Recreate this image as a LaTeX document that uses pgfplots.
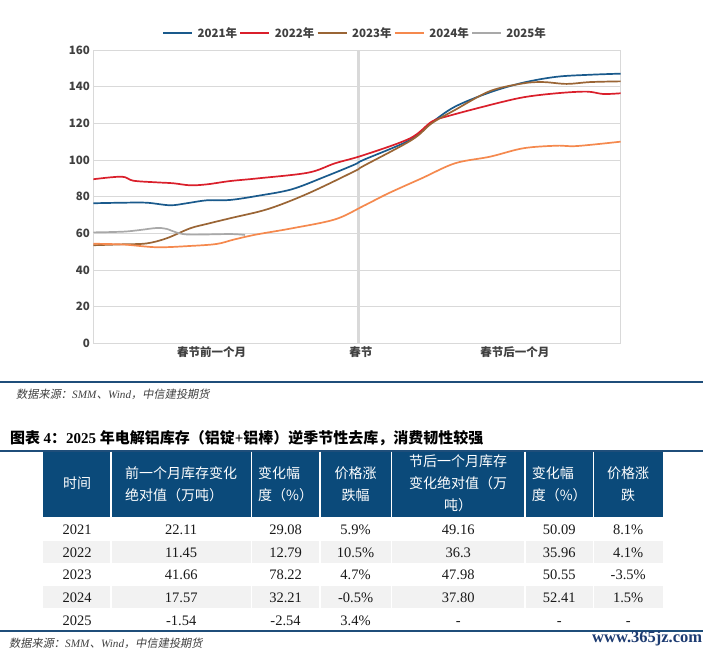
\documentclass[border=0pt]{standalone}
\usepackage{fontspec}
\setmainfont{Liberation Serif}
\newfontfamily\cjk{Noto Sans CJK SC}
\newfontfamily\cjksl[FakeSlant=0.18]{Noto Sans CJK SC}
\usepackage{pgfplots}
\pgfplotsset{compat=1.18}
\definecolor{c21}{HTML}{1A5A8C}
\definecolor{c22}{HTML}{DA1F2B}
\definecolor{c23}{HTML}{9A6535}
\definecolor{c24}{HTML}{F5894E}
\definecolor{c25}{HTML}{A9A9A9}
\definecolor{gridc}{HTML}{D9D9D9}
\definecolor{navy}{HTML}{0B4A7A}
\definecolor{rulec}{HTML}{1F4E7A}
\definecolor{rowgray}{HTML}{F2F2F2}
\definecolor{labc}{HTML}{404040}
\definecolor{wmark}{HTML}{1E3C72}
\begin{document}
\begin{tikzpicture}
\useasboundingbox[fill=white] (0,0) rectangle (709bp,-654bp);
\begin{axis}[at={(93.3bp,-343.3bp)}, anchor=south west, scale only axis,
  width=527.4bp, height=293.3bp,
  xmin=0, xmax=60, ymin=0, ymax=160,
  ytick={0,20,...,160},
  xtick={13.47,30.43,47.97},
  xticklabels={春节前一个月,春节,春节后一个月},
  major tick length=0pt,
  axis line style={gridc, line width=0.9bp},
  ymajorgrids, grid style={gridc, line width=0.9bp},
  tick label style={font=\cjk\bfseries\fontsize{11.5bp}{13bp}\selectfont, text=labc},
  /pgf/number format/assume math mode=true,
  legend columns=5,
  legend style={at={(0.4947,1.057)}, anchor=center, draw=none, fill=none,
    font=\cjk\bfseries\fontsize{11.5bp}{13bp}\selectfont, text=labc,
    inner sep=0pt, nodes={inner sep=0pt},
    /tikz/every odd column/.append style={column sep=4.5bp},
    /tikz/every even column/.append style={column sep=2.5bp}},
  legend image code/.code={\draw[#1, line width=1.7bp] (0bp,0bp) -- (29bp,0bp);},
  every axis plot/.append style={line width=1.7bp, smooth, tension=0.55},
]
\draw[gridc, line width=2.6bp] (axis cs:30.15,0) -- (axis cs:30.15,160);
\addplot[c21] coordinates {(0,76.4)(3.41,76.7)(6.08,76.7)(8.73,75.3)(10.63,76.4)(12.9,78)(15.55,78.2)(18.77,80.5)(22.57,84)(26.36,90.9)(29.77,97.6)(30.72,100)(36.03,110.9)(38.5,120.4)(41.15,129.1)(45.13,136.9)(48.92,142.2)(52.72,145.4)(56.51,146.5)(60,147.1)};
\addlegendentry{2021年}
\addplot[c22] coordinates {(0,89.5)(3.23,90.9)(4.55,88.7)(7.21,87.8)(9.1,87.3)(11,86.2)(12.9,86.7)(15.55,88.5)(18.77,90)(24.46,93.1)(27.5,98.2)(30.72,102.6)(36.03,111.8)(38.5,120.9)(40.39,124)(45.13,130)(48.92,134.2)(52.72,136.4)(56.13,137.3)(58.02,136)(60,136.4)};
\addlegendentry{2022年}
\addplot[c23] coordinates {(0,53.5)(3.41,54)(6.08,54.5)(8.35,57.3)(11,62.7)(12.9,65.1)(15.55,68.2)(19.91,73.3)(24.46,81.8)(29.77,94)(30.72,96.7)(36.22,110.9)(38.5,120)(41.15,127.3)(45.13,137.6)(48.92,141.8)(51.19,142.5)(53.86,141.5)(56.51,142.5)(60,142.9)};
\addlegendentry{2023年}
\addplot[c24] coordinates {(0,54.3)(3.41,53.9)(7.21,52.4)(11,53.1)(14.04,54.2)(16,56.6)(18.5,59.3)(22.57,62.7)(27.5,67.6)(30.72,74.9)(33.56,81.8)(37.36,90)(41.15,98.2)(45.13,101.8)(48.92,106.4)(52.72,107.8)(54.99,107.6)(60,110)};
\addlegendentry{2024年}
\addplot[c25] coordinates {(0,60.5)(3.41,60.9)(5.31,61.8)(7.21,62.9)(8.35,62.4)(9.49,60.4)(11,59.3)(15.55,59.6)(17.26,59.1)};
\addlegendentry{2025年}
\end{axis}
\begin{scope}[x=1bp,y=-1bp]
\fill[rulec] (0,380.8) rectangle (703,382.8);
\node[anchor=west, text=labc, inner sep=0pt] at (16,394) {\fontsize{11.2bp}{12bp}\selectfont{\cjksl 数据来源：}\textit{SMM}{\cjksl 、}\textit{Wind}{\cjksl ，中信建投期货}};
\node[anchor=west, inner sep=0pt] at (10,438) {\fontsize{15bp}{17bp}\selectfont\bfseries{\cjk 图表 }4{\cjk ：}2025 {\cjk 年电解铝库存（铝锭}+{\cjk 铝棒）逆季节性去库，消费韧性较强}};
\fill[rulec] (0,449.5) rectangle (703,451.5);
\fill[navy] (42.6,451.5) rectangle (662.7,517);
\fill[rowgray] (42.6,540.5) rectangle (662.7,563);
\fill[rowgray] (42.6,585.5) rectangle (662.7,608);
\foreach \x in {111.2,251.3,319.9,391.3,525,593.6}{\draw[white, line width=1.5bp] (\x,451.5) -- (\x,630);}
\begin{scope}[every node/.style={text=white, font=\cjk\fontsize{14bp}{21.7bp}\selectfont, inner sep=0pt}]
\node[align=center] at (77,483) {时间};
\node[align=left] at (181.2,484.2) {前一个月库存变化\\绝对值（万吨）};
\node[align=left] at (285.6,484.2) {变化幅\\度（\%）};
\node[align=center] at (355.6,484.2) {价格涨\\跌幅};
\node[align=center] at (458.2,483.3) {节后一个月库存\\变化绝对值（万\\吨）};
\node[align=left] at (559.3,484.2) {变化幅\\度（\%）};
\node[align=center] at (628.2,484.2) {价格涨\\跌};
\end{scope}
\begin{scope}[every node/.style={text=black!90, font=\fontsize{14.5bp}{16bp}\selectfont, inner sep=0pt, anchor=base}]
\node at (77,534.3) {2021}; \node at (181.2,534.3) {22.11}; \node at (285.6,534.3) {29.08}; \node at (355.6,534.3) {5.9\%}; \node at (458.2,534.3) {49.16}; \node at (559.3,534.3) {50.09}; \node at (628.2,534.3) {8.1\%};
\node at (77,557.3) {2022}; \node at (181.2,557.3) {11.45}; \node at (285.6,557.3) {12.79}; \node at (355.6,557.3) {10.5\%}; \node at (458.2,557.3) {36.3}; \node at (559.3,557.3) {35.96}; \node at (628.2,557.3) {4.1\%};
\node at (77,579.3) {2023}; \node at (181.2,579.3) {41.66}; \node at (285.6,579.3) {78.22}; \node at (355.6,579.3) {4.7\%}; \node at (458.2,579.3) {47.98}; \node at (559.3,579.3) {50.55}; \node at (628.2,579.3) {-3.5\%};
\node at (77,602.3) {2024}; \node at (181.2,602.3) {17.57}; \node at (285.6,602.3) {32.21}; \node at (355.6,602.3) {-0.5\%}; \node at (458.2,602.3) {37.80}; \node at (559.3,602.3) {52.41}; \node at (628.2,602.3) {1.5\%};
\node at (77,625.7) {2025}; \node at (181.2,625.7) {-1.54}; \node at (285.6,625.7) {-2.54}; \node at (355.6,625.7) {3.4\%}; \node at (458.2,625.7) {-}; \node at (559.3,625.7) {-}; \node at (628.2,625.7) {-};
\end{scope}
\fill[rulec] (0,630) rectangle (703,632);
\node[anchor=west, text=labc, inner sep=0pt] at (9,643.3) {\fontsize{11.2bp}{12bp}\selectfont{\cjksl 数据来源：}\textit{SMM}{\cjksl 、}\textit{Wind}{\cjksl ，中信建投期货}};
\node[anchor=west, text=wmark, inner sep=0pt] at (592,639) {\fontsize{16.5bp}{18bp}\selectfont\bfseries www.365jz.com};
\end{scope}
\end{tikzpicture}
\end{document}
